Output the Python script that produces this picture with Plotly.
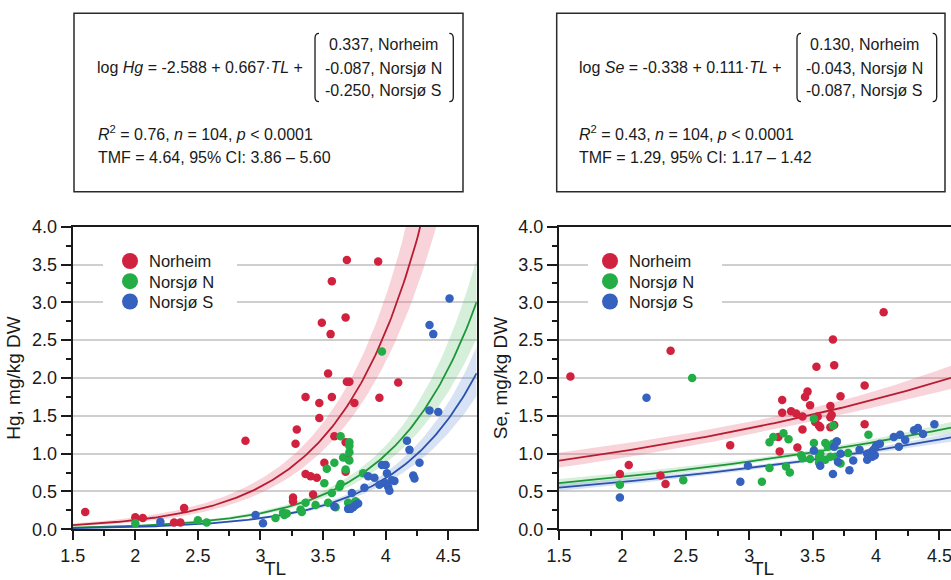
import numpy as np
import plotly.graph_objects as go

W, H = 951, 580

# ---------------- data ----------------
GROUPS = ["Norheim", "Norsjø N", "Norsjø S"]

# Hg panel
hg_norheim_tl = [1.60, 2.00, 2.06, 2.31, 2.36, 2.39, 2.88, 3.26, 3.26, 3.28, 3.29, 3.36, 3.36, 3.40, 3.42, 3.45,
                 3.47, 3.47, 3.49, 3.51, 3.54, 3.56, 3.57, 3.57, 3.59, 3.68, 3.68, 3.68, 3.69, 3.69, 3.70, 3.71,
                 3.75, 3.94, 3.95, 4.10]
hg_norheim = [0.23, 0.16, 0.15, 0.09, 0.09, 0.28, 1.17, 0.42, 0.37, 1.13, 1.32, 1.75, 0.73, 0.70, 0.46, 0.68,
              1.67, 1.47, 2.73, 0.88, 2.06, 2.58, 3.28, 1.75, 1.23, 2.80, 1.15, 0.76, 3.56, 1.95, 0.93, 1.95,
              1.67, 3.54, 1.74, 1.94]
hg_norsjoN_tl = [2.00, 2.50, 2.57, 3.12, 3.18, 3.19, 3.21, 3.32, 3.33, 3.36, 3.44, 3.51, 3.53, 3.54, 3.57, 3.59,
                 3.60, 3.63, 3.64, 3.64, 3.66, 3.68, 3.70, 3.71, 3.71, 3.71, 3.71, 3.75, 3.76, 3.82, 3.97]
hg_norsjoN = [0.08, 0.12, 0.09, 0.15, 0.22, 0.19, 0.21, 0.26, 0.23, 0.35, 0.32, 0.61, 0.80, 0.35, 0.48, 0.88,
              0.29, 0.56, 0.60, 1.23, 0.95, 0.79, 0.35, 1.15, 1.10, 1.02, 0.91, 0.35, 0.37, 0.74, 2.35]
hg_norsjoS_tl = [2.20, 2.96, 3.02, 3.59, 3.70, 3.72, 3.74, 3.76, 3.78, 3.73, 3.83, 3.86, 3.91, 3.95, 3.97, 4.00,
                 4.00, 4.01, 4.02, 4.03, 4.05, 4.07, 4.17, 4.19, 4.22, 4.23, 4.27, 4.35, 4.42, 4.35, 4.38, 4.51]
hg_norsjoS = [0.10, 0.19, 0.08, 0.30, 0.27, 0.27, 0.29, 0.32, 0.34, 0.48, 0.55, 0.70, 0.68, 0.59, 0.85, 0.85,
              0.61, 0.74, 0.56, 0.51, 0.65, 0.64, 1.17, 1.05, 0.71, 0.67, 0.88, 1.57, 1.55, 2.70, 2.58, 3.05]

# Se panel
se_norheim_tl = [1.59, 1.98, 2.05, 2.30, 2.34, 2.38, 2.85, 3.23, 3.24, 3.26, 3.26, 3.33, 3.37, 3.38, 3.42, 3.42,
                 3.44, 3.46, 3.48, 3.52, 3.53, 3.54, 3.55, 3.56, 3.64, 3.64, 3.64, 3.65, 3.66, 3.67, 3.67, 3.72,
                 3.91, 3.91, 4.06]
se_norheim = [2.02, 0.73, 0.85, 0.71, 0.60, 2.36, 1.11, 1.22, 1.03, 1.71, 1.54, 1.56, 1.53, 1.08, 1.49, 1.32,
              1.75, 1.82, 1.64, 1.42, 2.15, 1.49, 1.37, 1.35, 1.63, 1.48, 1.35, 1.51, 2.51, 2.17, 1.38, 1.76,
              1.90, 1.39, 2.87]
se_norsjoN_tl = [1.98, 2.48, 2.55, 3.10, 3.16, 3.16, 3.19, 3.27, 3.29, 3.31, 3.32, 3.41, 3.42, 3.48, 3.51, 3.51,
                 3.55, 3.55, 3.56, 3.60, 3.60, 3.62, 3.64, 3.66, 3.66, 3.68, 3.69, 3.72, 3.78, 3.94]
se_norsjoN = [0.59, 0.65, 2.00, 0.63, 1.15, 0.81, 1.22, 1.27, 0.83, 1.19, 0.75, 0.98, 0.94, 0.93, 1.46, 1.14,
              0.96, 0.88, 1.00, 1.14, 0.92, 1.09, 0.96, 1.13, 1.37, 0.96, 1.16, 0.87, 1.01, 1.25]
se_norsjoS_tl = [1.98, 2.19, 2.93, 2.99, 3.51, 3.56, 3.66, 3.67, 3.69, 3.70, 3.72, 3.79, 3.82, 3.87, 3.93, 3.93,
                 3.96, 3.97, 3.98, 3.99, 4.00, 4.03, 4.14, 4.18, 4.19, 4.23, 4.30, 4.33, 4.37, 4.46]
se_norsjoS = [0.42, 1.74, 0.63, 0.84, 1.04, 0.84, 0.73, 1.09, 1.16, 0.89, 1.00, 0.78, 0.91, 1.05, 0.92, 1.00,
              1.02, 0.96, 1.05, 0.98, 1.10, 1.13, 1.22, 1.09, 1.25, 1.18, 1.31, 1.34, 1.26, 1.39]

# Fitted models (log10 scale), as printed on the chart
HG_INTERCEPT, HG_SLOPE = -2.588, 0.667
HG_OFFSETS = [0.337, -0.087, -0.250]
SE_INTERCEPT, SE_SLOPE = -0.338, 0.111
SE_OFFSETS = [0.130, -0.043, -0.087]

# 95% CI half-width (log10 units): sqrt(s0^2 + (s1*(TL-c))^2)
CI_CENTER = 3.5
HG_CI_S0 = [0.065, 0.045, 0.040]
HG_CI_S1 = [0.060, 0.050, 0.045]
SE_CI_S0 = [0.025, 0.013, 0.012]
SE_CI_S1 = [0.020, 0.018, 0.016]

# Axis ticks
Y_TICKS = [0.0, 0.5, 1.0, 1.5, 2.0, 2.5, 3.0, 3.5, 4.0]
X_TICKS = [1.5, 2.0, 2.5, 3.0, 3.5, 4.0, 4.5]

# ---------------- style ----------------
MARKER_COLORS = ["#d0223f", "#22ad47", "#3561bf"]
LINE_COLORS = ["#b81c30", "#1d9638", "#2a52ad"]
BAND_COLORS = ["rgba(232,110,130,0.30)", "rgba(90,190,110,0.25)", "rgba(100,140,215,0.25)"]
FONT = "Liberation Sans, Arial, Helvetica, sans-serif"
INK = "#1a1a1a"


def px(x):
    return x / W


def py(y):
    return 1 - y / H


fig = go.Figure()

panels = [
    dict(xa="x", ya="y", xmax=4.727,
         pts=[(hg_norheim_tl, hg_norheim), (hg_norsjoN_tl, hg_norsjoN), (hg_norsjoS_tl, hg_norsjoS)],
         b0=HG_INTERCEPT, b1=HG_SLOPE, offs=HG_OFFSETS, s0=HG_CI_S0, s1=HG_CI_S1),
    dict(xa="x2", ya="y2", xmax=4.591,
         pts=[(se_norheim_tl, se_norheim), (se_norsjoN_tl, se_norsjoN), (se_norsjoS_tl, se_norsjoS)],
         b0=SE_INTERCEPT, b1=SE_SLOPE, offs=SE_OFFSETS, s0=SE_CI_S0, s1=SE_CI_S1),
]

for p in panels:
    tl = np.linspace(1.5, p["xmax"], 200)
    for i in range(3):
        logy = p["b0"] + p["b1"] * tl + p["offs"][i]
        hw = np.sqrt(p["s0"][i] ** 2 + (p["s1"][i] * (tl - CI_CENTER)) ** 2)
        up = 10 ** (logy + hw)
        lo = 10 ** (logy - hw)
        fig.add_trace(go.Scatter(x=np.concatenate([tl, tl[::-1]]), y=np.concatenate([up, lo[::-1]]),
                                 fill="toself", fillcolor=BAND_COLORS[i], line=dict(width=0),
                                 mode="lines", hoverinfo="skip", showlegend=False,
                                 xaxis=p["xa"], yaxis=p["ya"]))
    for i in range(3):
        logy = p["b0"] + p["b1"] * tl + p["offs"][i]
        fig.add_trace(go.Scatter(x=tl, y=10 ** logy, mode="lines",
                                 line=dict(color=LINE_COLORS[i], width=1.8),
                                 showlegend=False, hoverinfo="skip", xaxis=p["xa"], yaxis=p["ya"]))
    for i in range(3):
        xs, ys = p["pts"][i]
        fig.add_trace(go.Scatter(x=xs, y=ys, mode="markers", name=GROUPS[i],
                                 marker=dict(size=8.5, color=MARKER_COLORS[i], line=dict(width=0)),
                                 showlegend=False, xaxis=p["xa"], yaxis=p["ya"]))

axis_common = dict(
    showline=True, linecolor=INK, linewidth=2, automargin=False,
    ticks="outside", tickcolor=INK, tickwidth=1.5, ticklabeloverflow="allow",
    tickfont=dict(family=FONT, size=18, color=INK),
    zeroline=False,
)

yaxis_common = dict(axis_common, range=[0, 4], tickvals=Y_TICKS, tickformat=".1f", ticklen=10,
                    showgrid=True, gridcolor="#cfcfcf", gridwidth=1.5,
                    minor=dict(ticks="outside", ticklen=5, dtick=0.25, tickcolor=INK, tickwidth=1.5,
                               showgrid=False),
                    domain=[py(529.3), py(226.7)])
xaxis_common = dict(axis_common, tickvals=X_TICKS, ticktext=[f"{v:g}" for v in X_TICKS], ticklen=9,
                    showgrid=False, mirror=True,
                    minor=dict(ticks="outside", ticklen=5, dtick=0.25, tickcolor=INK, tickwidth=1.5,
                               showgrid=False))

fig.update_layout(
    width=W, height=H, margin=dict(l=0, r=0, t=0, b=0, autoexpand=False),
    paper_bgcolor="white", plot_bgcolor="white",
    font=dict(family=FONT, color=INK),
    xaxis=dict(xaxis_common, range=[1.5, 4.727], domain=[px(72.7), px(476.7)], anchor="y"),
    yaxis=dict(yaxis_common, anchor="x", mirror=True,
               title=dict(text="Hg, mg/kg DW", font=dict(family=FONT, size=19, color=INK), standoff=6)),
    xaxis2=dict(xaxis_common, range=[1.5, 4.591], domain=[px(559), 1.0], anchor="y2"),
    yaxis2=dict(yaxis_common, anchor="x2", mirror=False,
                title=dict(text="Se, mg/kg DW", font=dict(family=FONT, size=19, color=INK), standoff=6)),
    showlegend=False,
)

shapes = []
annotations = []

# x-axis titles
for tx in (274.5, 763.0):
    annotations.append(dict(text="TL", x=px(tx), y=0.0, xref="paper", yref="paper",
                            xanchor="center", yanchor="bottom", showarrow=False, borderpad=0,
                            font=dict(family=FONT, size=19, color=INK)))

# ---------------- legends (drawn by hand, one per panel) ----------------
LEGENDS = [dict(bg=(103, 237), sym_x=130, txt_x=146.5), dict(bg=(588, 722), sym_x=610, txt_x=626.5)]
LEGEND_ROWS_Y = [261.0, 281.2, 301.5]
for lg in LEGENDS:
    shapes.append(dict(type="rect", xref="paper", yref="paper", layer="above",
                       x0=px(lg["bg"][0]), x1=px(lg["bg"][1]), y0=py(313), y1=py(250),
                       line=dict(width=0), fillcolor="white"))
    for i, ry in enumerate(LEGEND_ROWS_Y):
        r = 8.0
        shapes.append(dict(type="circle", xref="paper", yref="paper", layer="above",
                           x0=px(lg["sym_x"] - r), x1=px(lg["sym_x"] + r), y0=py(ry + r), y1=py(ry - r),
                           line=dict(width=0), fillcolor=MARKER_COLORS[i]))
        annotations.append(dict(text=GROUPS[i], x=px(lg["txt_x"]), y=py(ry + 0.5), xref="paper", yref="paper",
                                xanchor="left", yanchor="middle", showarrow=False,
                                font=dict(family=FONT, size=16.5, color=INK)))

# ---------------- equation boxes ----------------
BOXES = [
    dict(x0=74, x1=463, eq_x=95, mat_cx=383, stat_x=96,
         eq="log <i>Hg</i> = -2.588 + 0.667·<i>TL</i> +",
         rows=["0.337, Norheim", "-0.087, Norsjø N", "-0.250, Norsjø S"],
         r2="<i>R</i><sup>2</sup> = 0.76, <i>n</i> = 104, <i>p</i> &lt; 0.0001",
         tmf="TMF = 4.64, 95% CI: 3.86 – 5.60",
         bl=315, br=453.3),
    dict(x0=556.7, x1=945, eq_x=577, mat_cx=864, stat_x=577,
         eq="log <i>Se</i> = -0.338 + 0.111·<i>TL</i> +",
         rows=["0.130, Norheim", "-0.043, Norsjø N", "-0.087, Norsjø S"],
         r2="<i>R</i><sup>2</sup> = 0.43, <i>n</i> = 104, <i>p</i> &lt; 0.0001",
         tmf="TMF = 1.29, 95% CI: 1.17 – 1.42",
         bl=797, br=936.7),
]

tf = dict(family=FONT, size=16, color=INK)
for b in BOXES:
    shapes.append(dict(type="rect", xref="paper", yref="paper",
                       x0=px(b["x0"]), x1=px(b["x1"]), y0=py(191.7), y1=py(13.3),
                       line=dict(color="#2a2a2a", width=1.5), fillcolor="rgba(0,0,0,0)"))
    top, bot, hk, cv = 33.3, 101.7, 4.0, 5.0
    L, R = b["bl"], b["br"]
    lp = (f"M {px(L+hk)},{py(top)} Q {px(L)},{py(top)} {px(L)},{py(top+cv)} "
          f"L {px(L)},{py(bot-cv)} Q {px(L)},{py(bot)} {px(L+hk)},{py(bot)}")
    rp = (f"M {px(R-hk)},{py(top)} Q {px(R)},{py(top)} {px(R)},{py(top+cv)} "
          f"L {px(R)},{py(bot-cv)} Q {px(R)},{py(bot)} {px(R-hk)},{py(bot)}")
    for path in (lp, rp):
        shapes.append(dict(type="path", xref="paper", yref="paper", path=path,
                           line=dict(color=INK, width=1.3)))
    annotations.append(dict(text=b["eq"], x=px(b["eq_x"]), y=py(67.5), xref="paper", yref="paper",
                            xanchor="left", yanchor="middle", showarrow=False, font=tf))
    for k, ry in enumerate([45.0, 68.3, 90.7]):
        annotations.append(dict(text=b["rows"][k], x=px(b["mat_cx"]), y=py(ry), xref="paper", yref="paper",
                                xanchor="center", yanchor="middle", showarrow=False, font=tf))
    annotations.append(dict(text=b["r2"], x=px(b["stat_x"]), y=py(133.0), xref="paper", yref="paper",
                            xanchor="left", yanchor="middle", showarrow=False, font=tf))
    annotations.append(dict(text=b["tmf"], x=px(b["stat_x"]), y=py(157.0), xref="paper", yref="paper",
                            xanchor="left", yanchor="middle", showarrow=False, font=tf))

fig.update_layout(shapes=shapes, annotations=annotations)

fig.write_html("out.html", config={"displayModeBar": False},
               post_script="document.body.style.margin='0';document.body.style.overflow='hidden';")
